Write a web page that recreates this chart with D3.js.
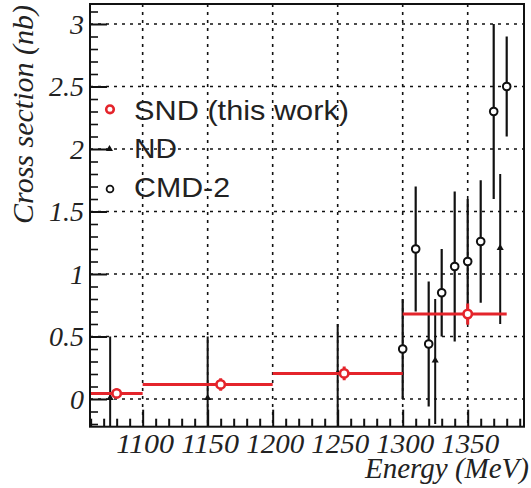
<!DOCTYPE html>
<html><head><meta charset="utf-8">
<script src="https://cdn.jsdelivr.net/npm/d3@7"></script>
<style>
html,body{margin:0;padding:0;background:#fff;}
svg{display:block;}
</style></head>
<body>
<svg id="chart" width="531" height="488"></svg>
<script>
// ---- data ----
const xTicks = [1100, 1150, 1200, 1250, 1300, 1350];
const yTicks = [0, 0.5, 1, 1.5, 2, 2.5, 3];
const yTickLabels = ["0", "0.5", "1", "1.5", "2", "2.5", "3"];

// SND (this work): bins, centres, values, errors
const sndBinLo = [1060, 1100, 1200, 1300];
const sndBinHi = [1100, 1200, 1300, 1380];
const sndE = [1080, 1160, 1255, 1350];
const sndSigma = [0.045, 0.117, 0.205, 0.68];
const sndErr = [0.04, 0.05, 0.055, 0.085];

// ND
const ndE = [1075, 1150, 1250, 1325, 1375];
const ndSigma = [0.0, 0.0, 0.2, 0.3, 1.2];
const ndErrUp = [0.5, 0.5, 0.4, 0.5, 0.6];
const ndErrDn = [0.5, 0.5, 0.5, 0.5, 0.6];

// CMD-2
const cmdE = [1300, 1310, 1320, 1330, 1340, 1350, 1360, 1370, 1380];
const cmdSigma = [0.40, 1.20, 0.44, 0.85, 1.06, 1.10, 1.26, 2.30, 2.50];
const cmdErr = [0.40, 0.50, 0.50, 0.35, 0.60, 0.50, 0.49, 0.70, 0.40];

const legendLabels = ["SND (this work)", "ND", "CMD-2"];

// ---- layout ----
const L = 90, R = 524, T = 4, B = 426.7;
const RED = "#e4242b";
const x = d3.scaleLinear().domain([1059.5, 1393.3]).range([L, R]);
const y = d3.scaleLinear().domain([-0.2216, 3.16]).range([B, T]);

const svg = d3.select("#chart");
const defs = svg.append("defs");
defs.append("clipPath").attr("id", "clip").append("rect")
  .attr("x", L).attr("y", T).attr("width", R - L).attr("height", B - T);

// grid
const grid = svg.append("g").attr("stroke", "#111").attr("stroke-width", 1.6)
  .attr("stroke-dasharray", "3,5");
grid.selectAll("line.h").data(yTicks).join("line").attr("class", "h")
  .attr("x1", L).attr("x2", R).attr("y1", d => y(d)).attr("y2", d => y(d));
grid.selectAll("line.v").data(xTicks).join("line").attr("class", "v")
  .attr("y1", T).attr("y2", B).attr("x1", d => x(d)).attr("x2", d => x(d));

// axes
const tickFont = "'Liberation Serif','Times New Roman',serif";
const minorX = d3.range(1060, 1391, 10).filter(v => v % 50 !== 0);
const minorY = d3.range(-2, 32, 1).map(v => v / 10).filter(v => Math.abs((v * 10) % 5) > 1e-6);

const ax = svg.append("g").attr("transform", `translate(0,${B})`)
  .call(d3.axisBottom(x).tickValues(xTicks).tickSize(-17).tickPadding(6.5).tickFormat(d3.format("d")));
ax.select(".domain").remove();
ax.selectAll(".tick line").attr("stroke", "#111").attr("stroke-width", 2);
ax.selectAll(".tick text").attr("font-family", tickFont).attr("font-style", "italic")
  .attr("font-size", 28).attr("fill", "#222").attr("dx", "2")
  .attr("textLength", 58).attr("lengthAdjust", "spacingAndGlyphs");
const axm = svg.append("g").attr("transform", `translate(0,${B})`)
  .call(d3.axisBottom(x).tickValues(minorX).tickSize(-8).tickFormat(""));
axm.select(".domain").remove();
axm.selectAll(".tick line").attr("stroke", "#111").attr("stroke-width", 2);

const ay = svg.append("g").attr("transform", `translate(${L},0)`)
  .call(d3.axisLeft(y).tickValues(yTicks).tickSize(-17).tickPadding(6)
    .tickFormat((d, i) => yTickLabels[i]));
ay.select(".domain").remove();
ay.selectAll(".tick line").attr("stroke", "#111").attr("stroke-width", 2);
ay.selectAll(".tick text").attr("font-family", tickFont).attr("font-style", "italic")
  .attr("font-size", 28).attr("fill", "#222").attr("dy", "0.33em");
const aym = svg.append("g").attr("transform", `translate(${L},0)`)
  .call(d3.axisLeft(y).tickValues(minorY).tickSize(-8).tickFormat(""));
aym.select(".domain").remove();
aym.selectAll(".tick line").attr("stroke", "#111").attr("stroke-width", 1.6);

// data layer
const g = svg.append("g").attr("clip-path", "url(#clip)");

// ND error bars + triangles
const ndIdx = d3.range(ndE.length);
g.selectAll("line.nd").data(ndIdx).join("line").attr("class", "nd")
  .attr("x1", i => x(ndE[i])).attr("x2", i => x(ndE[i]))
  .attr("y1", i => y(ndSigma[i] + ndErrUp[i])).attr("y2", i => y(ndSigma[i] - ndErrDn[i]))
  .attr("stroke", "#111").attr("stroke-width", 2);
const tri = d3.symbol().type(d3.symbolTriangle).size(22);
g.selectAll("path.nd").data(ndIdx).join("path").attr("class", "nd")
  .attr("d", tri).attr("transform", i => `translate(${x(ndE[i])},${y(ndSigma[i]) - 1})`)
  .attr("fill", "#111");

// CMD-2
const cmdIdx = d3.range(cmdE.length);
g.selectAll("line.cmd").data(cmdIdx).join("line").attr("class", "cmd")
  .attr("x1", i => x(cmdE[i])).attr("x2", i => x(cmdE[i]))
  .attr("y1", i => y(cmdSigma[i] + cmdErr[i])).attr("y2", i => y(cmdSigma[i] - cmdErr[i]))
  .attr("stroke", "#111").attr("stroke-width", 2.2);
g.selectAll("circle.cmd").data(cmdIdx).join("circle").attr("class", "cmd")
  .attr("cx", i => x(cmdE[i])).attr("cy", i => y(cmdSigma[i])).attr("r", 3.8)
  .attr("fill", "#fff").attr("stroke", "#111").attr("stroke-width", 2);

// SND
const sndIdx = d3.range(sndE.length);
g.selectAll("line.sndh").data(sndIdx).join("line").attr("class", "sndh")
  .attr("x1", i => x(sndBinLo[i])).attr("x2", i => x(sndBinHi[i]))
  .attr("y1", i => y(sndSigma[i])).attr("y2", i => y(sndSigma[i]))
  .attr("stroke", RED).attr("stroke-width", 3);
g.selectAll("line.sndv").data(sndIdx).join("line").attr("class", "sndv")
  .attr("x1", i => x(sndE[i])).attr("x2", i => x(sndE[i]))
  .attr("y1", i => y(sndSigma[i] + sndErr[i])).attr("y2", i => y(sndSigma[i] - sndErr[i]))
  .attr("stroke", RED).attr("stroke-width", 3);
g.selectAll("circle.snd").data(sndIdx).join("circle").attr("class", "snd")
  .attr("cx", i => x(sndE[i])).attr("cy", i => y(sndSigma[i])).attr("r", 4.2)
  .attr("fill", "#fff").attr("stroke", RED).attr("stroke-width", 2.6);

// frame
svg.append("rect").attr("x", L).attr("y", T).attr("width", R - L).attr("height", B - T)
  .attr("fill", "none").attr("stroke", "#111").attr("stroke-width", 2);

// legend
const legFont = "'Liberation Sans',Arial,Helvetica,sans-serif";
const legY = [120, 158.3, 196.7];
const legW = [215, 43, 96];
const leg = svg.append("g");
leg.selectAll("text").data(legendLabels).join("text")
  .attr("x", 134).attr("y", (d, i) => legY[i])
  .attr("font-family", legFont).attr("font-size", 28).attr("fill", "#222")
  .attr("textLength", (d, i) => legW[i]).attr("lengthAdjust", "spacingAndGlyphs")
  .text(d => d);
leg.append("circle").attr("cx", 110).attr("cy", 109.3).attr("r", 3.8)
  .attr("fill", "#fff").attr("stroke", RED).attr("stroke-width", 2.6);
leg.append("path").attr("d", tri).attr("transform", "translate(109.5,149)").attr("fill", "#111");
leg.append("circle").attr("cx", 110).attr("cy", 189).attr("r", 3.4)
  .attr("fill", "#fff").attr("stroke", "#111").attr("stroke-width", 1.8);

// axis titles
svg.append("text").attr("transform", "translate(33,5) rotate(-90)")
  .attr("text-anchor", "end").attr("font-family", tickFont).attr("font-style", "italic")
  .attr("font-size", 30).attr("fill", "#222").text("Cross section (nb)");
svg.append("text").attr("x", 529).attr("y", 478).attr("text-anchor", "end")
  .attr("font-family", tickFont).attr("font-style", "italic")
  .attr("font-size", 29).attr("fill", "#222").text("Energy (MeV)");
</script>
</body></html>
